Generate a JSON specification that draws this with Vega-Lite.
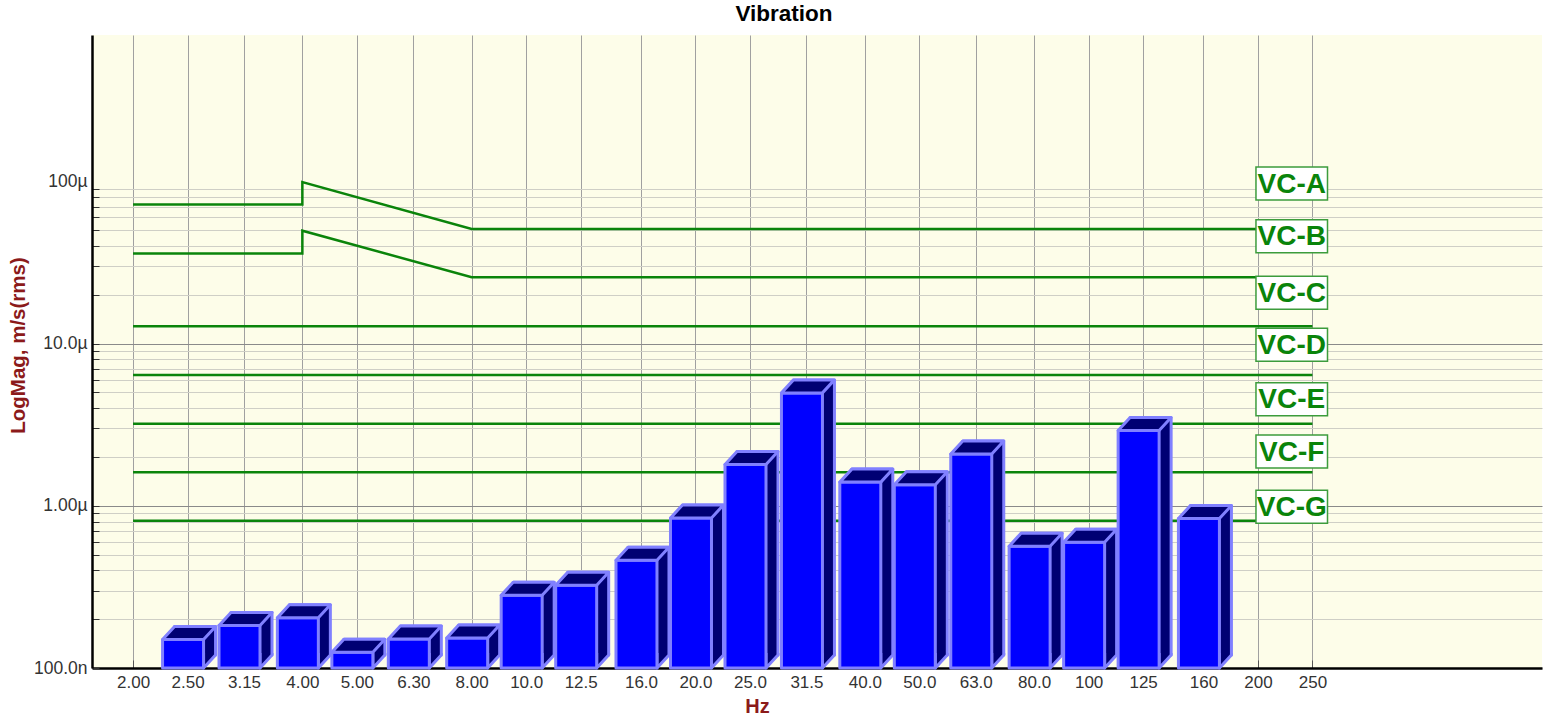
{
  "$schema": "https://vega.github.io/schema/vega-lite/v6.json",
  "width": 1450,
  "height": 633,
  "autosize": "none",
  "padding": {"left": 92, "top": 35, "right": 21, "bottom": 52},
  "background": "white",
  "title": {"text": "Vibration", "font": "Liberation Sans", "fontSize": 22.5, "fontWeight": "bold", "color": "black", "anchor": "middle", "dx": -33, "offset": 10},
  "config": {"view": {"fill": "#fdfde9", "stroke": null}, "font": "Liberation Sans"},
  "datasets": {
    "bars": [
      {"f": 2.5, "v": 1.50e-7},
      {"f": 3.15, "v": 1.83e-7},
      {"f": 4, "v": 2.04e-7},
      {"f": 5, "v": 1.25e-7},
      {"f": 6.3, "v": 1.51e-7},
      {"f": 8, "v": 1.53e-7},
      {"f": 10, "v": 2.81e-7},
      {"f": 12.5, "v": 3.24e-7},
      {"f": 16, "v": 4.62e-7},
      {"f": 20, "v": 8.42e-7},
      {"f": 25, "v": 1.80e-6},
      {"f": 31.5, "v": 4.97e-6},
      {"f": 40, "v": 1.40e-6},
      {"f": 50, "v": 1.35e-6},
      {"f": 63, "v": 2.09e-6},
      {"f": 80, "v": 5.64e-7},
      {"f": 100, "v": 5.97e-7},
      {"f": 125, "v": 2.91e-6},
      {"f": 160, "v": 8.35e-7}
    ],
    "vc": [
      {"name": "VC-A", "i": 1, "f": 2, "v": 7.2e-5},
      {"name": "VC-A", "i": 2, "f": 4, "v": 7.2e-5},
      {"name": "VC-A", "i": 3, "f": 4, "v": 9.9e-5},
      {"name": "VC-A", "i": 4, "f": 8, "v": 5.1e-5},
      {"name": "VC-A", "i": 5, "f": 200, "v": 5.1e-5},
      {"name": "VC-B", "i": 1, "f": 2, "v": 3.6e-5},
      {"name": "VC-B", "i": 2, "f": 4, "v": 3.6e-5},
      {"name": "VC-B", "i": 3, "f": 4, "v": 4.97e-5},
      {"name": "VC-B", "i": 4, "f": 8, "v": 2.57e-5},
      {"name": "VC-B", "i": 5, "f": 200, "v": 2.57e-5},
      {"name": "VC-C", "i": 1, "f": 2, "v": 1.28e-5},
      {"name": "VC-C", "i": 2, "f": 250, "v": 1.28e-5},
      {"name": "VC-D", "i": 1, "f": 2, "v": 6.4e-6},
      {"name": "VC-D", "i": 2, "f": 250, "v": 6.4e-6},
      {"name": "VC-E", "i": 1, "f": 2, "v": 3.21e-6},
      {"name": "VC-E", "i": 2, "f": 250, "v": 3.21e-6},
      {"name": "VC-F", "i": 1, "f": 2, "v": 1.61e-6},
      {"name": "VC-F", "i": 2, "f": 250, "v": 1.61e-6},
      {"name": "VC-G", "i": 1, "f": 2, "v": 8.1e-7},
      {"name": "VC-G", "i": 2, "f": 250, "v": 8.1e-7}
    ],
    "labels": [
      {"name": "VC-A", "v": 9.7e-5},
      {"name": "VC-B", "v": 4.6e-5},
      {"name": "VC-C", "v": 2.06e-5},
      {"name": "VC-D", "v": 9.85e-6},
      {"name": "VC-E", "v": 4.54e-6},
      {"name": "VC-F", "v": 2.16e-6},
      {"name": "VC-G", "v": 9.86e-7}
    ]
  },
  "layer": [
    {
      "data": {"name": "vc"},
      "mark": {"type": "line", "color": "#0a840a", "strokeWidth": 2.5},
      "encoding": {
        "x": {
          "field": "f", "type": "quantitative",
          "scale": {"type": "log", "domain": [1.7256, 626.9], "nice": false},
          "axis": {
            "values": [2, 2.5, 3.15, 4, 5, 6.3, 8, 10, 12.5, 16, 20, 25, 31.5, 40, 50, 63, 80, 100, 125, 160, 200, 250],
            "format": ".3r",
            "labelFont": "Liberation Sans", "labelFontSize": 17, "labelColor": "#333333",
            "labelPadding": 14, "labelFlush": false, "labelOverlap": false,
            "tickSize": -8, "tickColor": "#555555",
            "grid": true, "gridColor": "#a0a0a0", "gridWidth": 1,
            "domainColor": "black", "domainWidth": 2.5,
            "title": "Hz", "titleFont": "Liberation Sans", "titleFontSize": 20, "titleFontWeight": "bold", "titleColor": "#8b1a1a",
            "titleX": 665, "titleY": 44, "titleBaseline": "alphabetic", "titleAlign": "center"
          }
        },
        "y": {
          "field": "v", "type": "quantitative",
          "scale": {"type": "log", "domain": [1e-7, 8e-4], "nice": false},
          "axis": {
            "values": [1e-7, 2e-7, 3e-7, 4e-7, 5e-7, 6e-7, 7e-7, 8e-7, 9e-7, 1e-6, 2e-6, 3e-6, 4e-6, 5e-6, 6e-6, 7e-6, 8e-6, 9e-6, 1e-5, 2e-5, 3e-5, 4e-5, 5e-5, 6e-5, 7e-5, 8e-5, 9e-5, 1e-4],
            "labelExpr": "datum.value < 1.05e-7 ? '100.0n' : abs(datum.value - 1e-6) < 1e-9 ? '1.00µ' : abs(datum.value - 1e-5) < 1e-8 ? '10.0µ' : abs(datum.value - 1e-4) < 1e-7 ? '100µ' : ''",
            "labelFont": "Liberation Sans", "labelFontSize": 17.5, "labelColor": "#333333",
            "labelPadding": 12, "labelFlush": false, "labelOverlap": false,
            "tickSize": -7, "tickColor": "#333333",
            "tickOpacity": {"condition": {"test": "datum.value > 9.5e-5", "value": 0}, "value": 1},
            "grid": true,
            "gridColor": {"condition": {"test": "abs(datum.value - 1e-6) < 1e-9 || abs(datum.value - 1e-5) < 1e-8", "value": "#8a8a8a"}, "value": "#cfcfc6"},
            "gridOpacity": {"condition": {"test": "datum.value > 9.5e-5", "value": 0}, "value": 1},
            "domainColor": "black", "domainWidth": 2.5,
            "title": "LogMag, m/s(rms)", "titleFont": "Liberation Sans", "titleFontSize": 20.5, "titleFontWeight": "bold", "titleColor": "#8b1a1a",
            "titleX": -74, "titleY": 310, "titleAlign": "center", "titleBaseline": "middle"
          }
        },
        "detail": {"field": "name"},
        "order": {"field": "i", "type": "quantitative"}
      }
    },
    {
      "data": {"name": "bars"},
      "mark": {"type": "bar", "width": 41, "xOffset": 7.5, "yOffset": -13, "y2Offset": -13, "fill": "#000073", "stroke": "#8080ff", "strokeWidth": 3, "strokeJoin": "round"},
      "encoding": {
        "x": {"field": "f", "type": "quantitative"},
        "y": {"field": "v", "type": "quantitative"},
        "y2": {"datum": 1e-7}
      }
    },
    {
      "data": {"name": "bars"},
      "mark": {"type": "point", "shape": "M16,-15L16,0L28,-13L28,-15", "size": 4, "filled": true, "fill": "#000073", "stroke": "#8080ff", "strokeWidth": 3, "opacity": 1, "strokeJoin": "round"},
      "encoding": {
        "x": {"field": "f", "type": "quantitative"},
        "y": {"datum": 1e-7, "type": "quantitative"}
      }
    },
    {
      "data": {"name": "bars"},
      "mark": {"type": "bar", "width": 41, "xOffset": -4.5, "fill": "#0000ff", "stroke": "#8080ff", "strokeWidth": 3, "strokeJoin": "round"},
      "encoding": {
        "x": {"field": "f", "type": "quantitative"},
        "y": {"field": "v", "type": "quantitative"},
        "y2": {"datum": 1e-7}
      }
    },
    {
      "data": {"name": "bars"},
      "mark": {"type": "point", "shape": "M-25,0L16,0L28,-13L-13,-13Z", "size": 4, "filled": true, "fill": "#000073", "stroke": "#8080ff", "strokeWidth": 3, "opacity": 1, "strokeJoin": "round"},
      "encoding": {
        "x": {"field": "f", "type": "quantitative"},
        "y": {"field": "v", "type": "quantitative"}
      }
    },
    {
      "data": {"name": "labels"},
      "mark": {"type": "rect", "fill": "white", "stroke": "#3c9c3c", "strokeWidth": 1.5, "yOffset": -16.5, "y2Offset": 16.5},
      "encoding": {
        "x": {"datum": 198.4, "type": "quantitative"},
        "x2": {"datum": 265.9},
        "y": {"field": "v", "type": "quantitative"},
        "y2": {"field": "v"}
      }
    },
    {
      "data": {"name": "labels"},
      "mark": {"type": "text", "font": "Liberation Sans", "fontSize": 28, "fontWeight": "bold", "color": "#0a840a", "align": "center", "baseline": "middle", "dy": 1},
      "encoding": {
        "x": {"datum": 229.7, "type": "quantitative"},
        "y": {"field": "v", "type": "quantitative"},
        "text": {"field": "name"}
      }
    }
  ]
}
